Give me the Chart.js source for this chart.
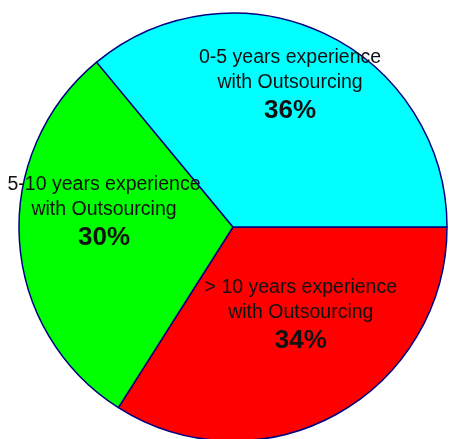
<!DOCTYPE html>
<html>
<head>
<meta charset="utf-8">
<script src="https://cdn.jsdelivr.net/npm/chart.js@4.4.1/dist/chart.umd.min.js"></script>
<style>
html,body{margin:0;padding:0;background:#fff;overflow:hidden;width:452px;height:439px;}
#wrap{position:absolute;left:0;top:0;width:466px;height:454px;}
</style>
</head>
<body>
<div id="wrap"><canvas id="c"></canvas></div>
<script>
// Data (drawn clockwise starting at 3 o'clock)
const categories = ['> 10 years experience', '5-10 years experience', '0-5 years experience'];
const subLabels = ['with Outsourcing', 'with Outsourcing', 'with Outsourcing'];
const values = [34, 30, 36];
const colors = ['#FF0000', '#00FF00', '#00FFFF'];

// label placement relative to each slice: angle offset from slice middle (deg), radius fraction
const labelAngleOffset = [-9.6, 11.1, -3.6];
const labelRadiusFrac = [0.51, 0.608, 0.724];

const labelPlugin = {
  id: 'sliceLabels',
  afterDatasetsDraw(chart) {
    const ctx = chart.ctx;
    const meta = chart.getDatasetMeta(0);
    const total = values.reduce((a, b) => a + b, 0);
    meta.data.forEach((arc, i) => {
      const p = arc.getProps(['x', 'y', 'startAngle', 'endAngle', 'outerRadius'], true);
      const mid = (p.startAngle + p.endAngle) / 2 + labelAngleOffset[i] * Math.PI / 180;
      const r = p.outerRadius * labelRadiusFrac[i];
      const cx = p.x + Math.cos(mid) * r;
      const cy = p.y + Math.sin(mid) * r;
      ctx.save();
      ctx.fillStyle = '#111';
      ctx.textAlign = 'center';
      ctx.textBaseline = 'middle';
      ctx.font = '19.5px "Liberation Sans", Arial, sans-serif';
      ctx.fillText(categories[i], cx, cy - 25);
      ctx.fillText(subLabels[i], cx, cy);
      ctx.font = 'bold 26px "Liberation Sans", Arial, sans-serif';
      ctx.fillText(Math.round(values[i] / total * 100) + '%', cx, cy + 28);
      ctx.restore();
    });
  }
};

new Chart(document.getElementById('c'), {
  type: 'pie',
  data: {
    labels: categories,
    datasets: [{
      data: values,
      backgroundColor: colors,
      borderColor: '#000080',
      borderWidth: 1.5
    }]
  },
  options: {
    responsive: true,
    maintainAspectRatio: false,
    animation: false,
    rotation: 90,
    radius: 214,
    layout: { padding: 0 },
    plugins: {
      legend: { display: false },
      tooltip: { enabled: false }
    }
  },
  plugins: [labelPlugin]
});
</script>
</body>
</html>
